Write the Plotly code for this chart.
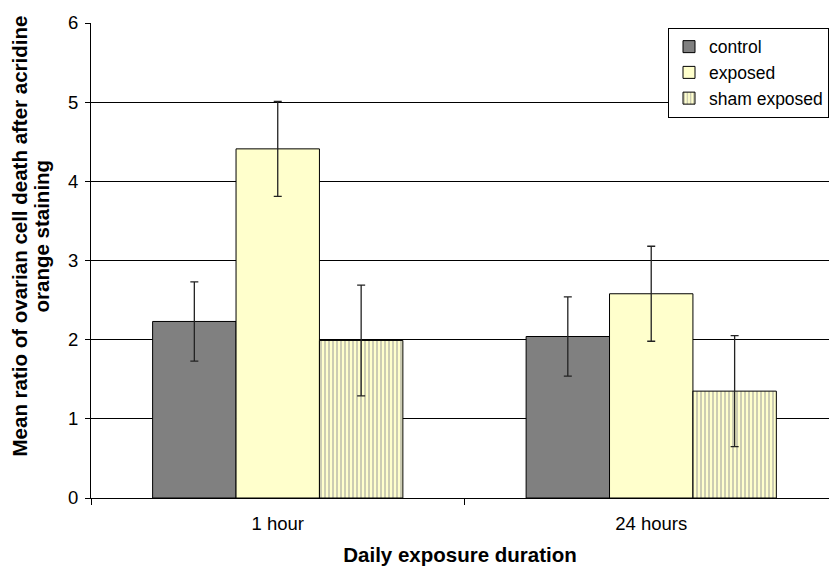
import plotly.graph_objects as go

categories = ["1 hour", "24 hours"]
control = [2.23, 2.04]
control_err = [0.5, 0.5]
exposed = [4.41, 2.58]
exposed_err = [0.6, 0.6]
sham = [1.99, 1.35]
sham_err = [0.7, 0.7]

y_title_lines = ["Mean ratio of ovarian cell death after acridine", "orange staining"]

font = "Liberation Sans, Arial, sans-serif"

fig = go.Figure()

def err(vals):
    return dict(type="data", array=vals, color="#222222", thickness=1.3, width=4)

fig.add_trace(go.Bar(
    name="control", x=categories, y=control, error_y=err(control_err),
    marker=dict(color="#808080", line=dict(color="black", width=1)),
))
fig.add_trace(go.Bar(
    name="exposed", x=categories, y=exposed, error_y=err(exposed_err),
    marker=dict(color="#FFFFCC", line=dict(color="black", width=1)),
))
fig.add_trace(go.Bar(
    name="sham exposed", x=categories, y=sham, error_y=err(sham_err),
    marker=dict(
        color="#FFFFCC",
        line=dict(color="black", width=1),
        pattern=dict(shape="|", fgcolor="#9a9a9a", bgcolor="#FFFFCC",
                     size=4, solidity=0.5, fillmode="overlay"),
    ),
))

# two-line rotated y-axis title, drawn as separate lines for tight spacing
for line, shift in zip(y_title_lines, [-72, -50]):
    fig.add_annotation(
        text=f"<b>{line}</b>", textangle=-90,
        xref="paper", yref="paper", x=0, y=0.5,
        xanchor="center", yanchor="middle",
        xshift=shift, yshift=24,
        showarrow=False, font=dict(family=font, size=20.5, color="black"),
    )

fig.update_layout(
    width=829, height=566,
    margin=dict(l=91, r=0, t=23, b=68),
    paper_bgcolor="white", plot_bgcolor="white",
    barmode="group", bargap=0.33, bargroupgap=0,
    font=dict(family=font, size=18, color="black"),
    showlegend=True,
    legend=dict(
        x=1.0, xanchor="right", y=0.99, yanchor="top",
        bgcolor="white", bordercolor="black", borderwidth=1,
        font=dict(family=font, size=17.5, color="black"),
        itemwidth=30, tracegroupgap=0,
    ),
    xaxis=dict(
        range=[-0.5, 1.476],
        showline=True, linecolor="black", linewidth=1,
        ticks="outside", tickson="boundaries", ticklen=6, tickcolor="black",
        showgrid=False,
        ticklabelstandoff=9,
        title=dict(text="<b>Daily exposure duration</b>", font=dict(size=20.5), standoff=16),
        tickfont=dict(size=18.5),
    ),
    yaxis=dict(
        range=[0, 6], dtick=1,
        showline=True, linecolor="black", linewidth=1,
        ticks="outside", ticklen=5, tickcolor="black",
        showgrid=True, gridcolor="black", gridwidth=1,
        zeroline=False,
        ticklabelstandoff=3,
        tickfont=dict(size=18.5),
    ),
)

fig.write_html("out.html")
